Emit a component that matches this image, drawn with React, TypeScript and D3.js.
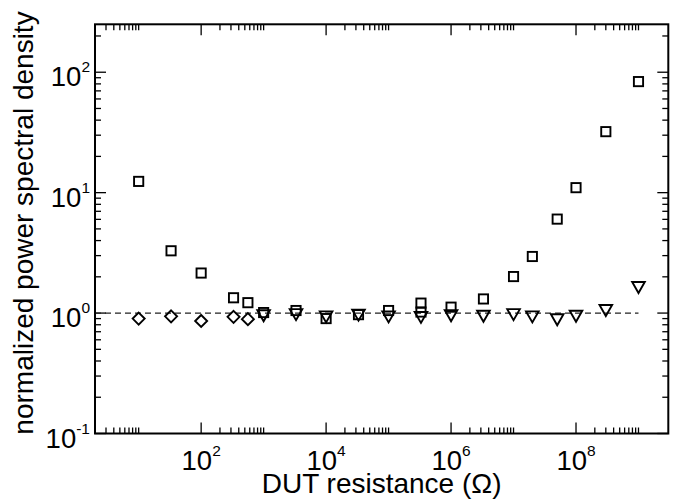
import * as d3 from 'd3'

// DUT resistance (ohm) for each symbol set
const squareR = [10, 33, 100, 330, 560, 1000, 3300, 1e4, 3.3e4, 1e5, 3.3e5, 3.3e5, 1e6, 3.3e6, 1e7, 2e7, 5e7, 1e8, 3e8, 1e9]
const squareV = [12.4, 3.29, 2.15, 1.34, 1.22, 1.01, 1.05, 0.9, 0.97, 1.05, 1.21, 1.02, 1.12, 1.31, 2.01, 2.95, 6.03, 11.0, 32.1, 83.6]

const diamondR = [10, 33, 100, 330, 560]
const diamondV = [0.9, 0.94, 0.86, 0.93, 0.89]

const triangleR = [1000, 3300, 1e4, 3.3e4, 1e5, 3.3e5, 1e6, 3.3e6, 1e7, 2e7, 5e7, 1e8, 3e8, 1e9]
const triangleV = [0.95, 0.97, 0.93, 0.96, 0.93, 0.92, 0.95, 0.94, 0.97, 0.93, 0.88, 0.94, 1.05, 1.63]

const xMajor = [2, 4, 6, 8]
const yMajor = [-1, 0, 1, 2]

const refLineR = [2, 1e9]
const refLineV = 1

const W = 691
const H = 504
const left = 95
const right = 668.3
const top = 24.3
const bottom = 433.5
const font = '"Liberation Sans", Arial, Helvetica, sans-serif'

export default function App() {
  const x = d3.scaleLog().domain([2, 3e9]).range([left, right])
  const y = d3.scaleLog().domain([0.1, 250]).range([bottom, top])

  const [xmin, xmax] = x.domain()
  const [ymin, ymax] = y.domain()

  const xMinor: number[] = []
  ;[0, 2, 4, 6, 8].forEach((e) => {
    for (let k = 2; k <= 10; k++) {
      const v = k * Math.pow(10, e)
      if (v > xmin && v < xmax) xMinor.push(v)
    }
  })
  const yMinor: number[] = []
  ;[-1, 0, 1, 2].forEach((e) => {
    for (let k = 2; k <= 9; k++) {
      const v = k * Math.pow(10, e)
      if (v > ymin && v < ymax) yMinor.push(v)
    }
  })

  const majorLen = 11
  const minorLen = 6
  const tickStroke = 1.3

  const line = d3
    .line<number>()
    .x((d) => x(d))
    .y(() => y(refLineV))

  const s = 4.6 // half side of square
  const dm = 6 // half diagonal of diamond
  const tw = 6.3 // half width of triangle
  const th = 5.5 // half height of triangle

  return (
    <svg
      width={W}
      height={H}
      style={{ position: 'absolute', left: 0, top: 0, background: '#fff' }}
      fontFamily={font}
    >
      <rect x={0} y={0} width={W} height={H} fill="#fff" />

      {/* x ticks, bottom and top, pointing inward */}
      {xMinor.map((v, i) => (
        <g key={'xm' + i} stroke="#000" strokeWidth={tickStroke}>
          <line x1={x(v)} x2={x(v)} y1={bottom} y2={bottom - minorLen} />
          <line x1={x(v)} x2={x(v)} y1={top} y2={top + minorLen} />
        </g>
      ))}
      {xMajor.map((e) => (
        <g key={'xM' + e} stroke="#000" strokeWidth={tickStroke}>
          <line x1={x(10 ** e)} x2={x(10 ** e)} y1={bottom} y2={bottom - majorLen} />
          <line x1={x(10 ** e)} x2={x(10 ** e)} y1={top} y2={top + majorLen} />
        </g>
      ))}

      {/* y ticks, left and right */}
      {yMinor.map((v, i) => (
        <g key={'ym' + i} stroke="#000" strokeWidth={tickStroke}>
          <line x1={left} x2={left + minorLen} y1={y(v)} y2={y(v)} />
          <line x1={right} x2={right - minorLen} y1={y(v)} y2={y(v)} />
        </g>
      ))}
      {yMajor.map((e) => (
        <g key={'yM' + e} stroke="#000" strokeWidth={tickStroke}>
          <line x1={left} x2={left + majorLen} y1={y(10 ** e)} y2={y(10 ** e)} />
          <line x1={right} x2={right - majorLen} y1={y(10 ** e)} y2={y(10 ** e)} />
        </g>
      ))}

      {/* reference line at 1 */}
      <path
        d={line(refLineR) || ''}
        fill="none"
        stroke="#222"
        strokeWidth={1.3}
        strokeDasharray="6,4"
      />

      {/* frame */}
      <rect
        x={left}
        y={top}
        width={right - left}
        height={bottom - top}
        fill="none"
        stroke="#000"
        strokeWidth={2}
      />

      {/* markers */}
      <g fill="none" stroke="#000" strokeWidth={1.9}>
        {triangleR.map((r, i) => {
          const cx = x(r)
          const cy = y(triangleV[i])
          return (
            <path
              key={'t' + i}
              d={`M${cx - tw},${cy - th}L${cx + tw},${cy - th}L${cx},${cy + th}Z`}
              strokeLinejoin="miter"
            />
          )
        })}
        {diamondR.map((r, i) => {
          const cx = x(r)
          const cy = y(diamondV[i])
          return (
            <path
              key={'d' + i}
              d={`M${cx},${cy - dm}L${cx + dm},${cy}L${cx},${cy + dm}L${cx - dm},${cy}Z`}
            />
          )
        })}
        {squareR.map((r, i) => (
          <rect
            key={'s' + i}
            x={x(r) - s}
            y={y(squareV[i]) - s}
            width={2 * s}
            height={2 * s}
          />
        ))}
      </g>

      {/* x tick labels */}
      {xMajor.map((e) => (
        <text
          key={'xl' + e}
          x={x(10 ** e)}
          y={bottom + 36}
          textAnchor="middle"
          fontSize={27.5}
          fill="#000"
        >
          10
          <tspan fontSize={15.5} dy={-14}>
            {e}
          </tspan>
        </text>
      ))}

      {/* y tick labels */}
      {yMajor.map((e) => (
        <text
          key={'yl' + e}
          x={left - 5}
          y={y(10 ** e) + 14}
          textAnchor="end"
          fontSize={27.5}
          fill="#000"
        >
          10
          <tspan fontSize={15.5} dy={-14}>
            {e}
          </tspan>
        </text>
      ))}

      {/* axis titles */}
      <text
        x={(left + right) / 2}
        y={493.3}
        textAnchor="middle"
        fontSize={28}
        fill="#000"
      >
        DUT resistance (Ω)
      </text>
      <text
        transform="translate(33.3,223) rotate(-90)"
        textAnchor="middle"
        fontSize={28}
        fill="#000"
      >
        normalized power spectral density
      </text>
    </svg>
  )
}
